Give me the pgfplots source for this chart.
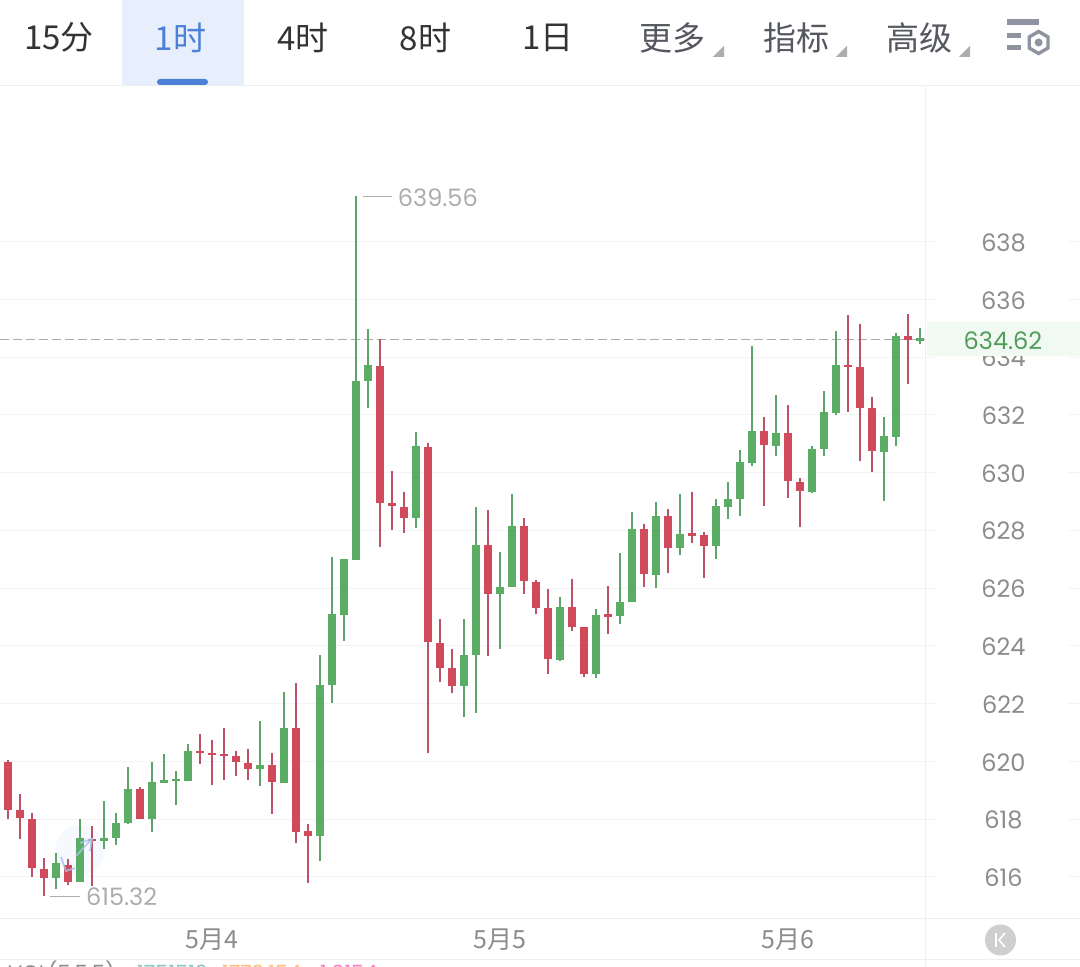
\documentclass[border=0pt]{standalone}
\usepackage{fontspec}
\usepackage{pgfplots}
\pgfplotsset{compat=1.18}
\setmainfont{Poppins}
\newfontfamily\cjk{Noto Sans CJK SC}
\newfontfamily\numf{Poppins}
\definecolor{gbody}{HTML}{5BAD66}
\definecolor{gwick}{HTML}{5CA469}
\definecolor{rbody}{HTML}{CF4A5A}
\definecolor{rwick}{HTML}{BC5268}
\definecolor{gridc}{HTML}{F3F4F5}
\definecolor{framec}{HTML}{EEEFF0}
\definecolor{lab}{HTML}{8C8C8C}
\definecolor{ann}{HTML}{ADADAD}
\definecolor{dashc}{HTML}{ABABAB}
\definecolor{txt}{HTML}{333333}
\definecolor{txtb}{HTML}{555860}
\definecolor{tabbg}{HTML}{E6EFFB}
\definecolor{tabfg}{HTML}{4C80D6}
\definecolor{icon}{HTML}{8E939F}
\definecolor{pricebg}{HTML}{F0F9F2}
\definecolor{btn}{HTML}{CFCFCF}
\definecolor{glow}{HTML}{F6F9FD}
\definecolor{arrowc}{HTML}{A9C4EC}
% position, high, top of body, bottom of body, low
\newcommand\G[5]{\addplot[gwick,line width=1.6pt] coordinates {(#1,#5)(#1,#2)};\addplot[gbody,line width=7.8pt] coordinates {(#1,#4)(#1,#3)};}
\newcommand\R[5]{\addplot[rwick,line width=1.6pt] coordinates {(#1,#5)(#1,#2)};\addplot[rbody,line width=7.8pt] coordinates {(#1,#4)(#1,#3)};}
\begin{document}
\begin{tikzpicture}
\path[use as bounding box,fill=white] (0pt,-48.5pt) rectangle (1080pt,918.5pt);
\fill[glow] (80pt,68.5pt) circle (25pt);
\begin{axis}[at={(0pt,0pt)},anchor=south west,scale only axis,width=925.5pt,height=833pt,
  xmin=-0.6417,xmax=76.48,ymin=614.552,ymax=643.405,clip=false,
  axis line style={draw=none},tick style={draw=none},
  ymajorgrids,grid style={color=gridc,line width=0.8pt},
  ytick={616,618,...,638},yticklabel pos=right,
  xtick={17,41,65},xticklabels={5月4,5月5,5月6},
  /pgf/number format/assume math mode=true,/pgf/number format/fixed,/pgf/number format/1000 sep={},
  yticklabel style={anchor=center,xshift=78pt,yshift=-1pt,text=lab,font=\numf\fontsize{24}{27}\selectfont},
  xticklabel style={anchor=center,yshift=-21.5pt,text=lab,font=\cjk\fontsize{25}{28}\selectfont}]
\addplot[dashc,line width=1.3pt,dash pattern=on 9pt off 4pt] coordinates {(-0.64,634.6)(76.48,634.6)};
\R{0}{620.04}{619.98}{618.31}{617.99}
\R{1}{618.85}{618.31}{618.02}{617.30}
\R{2}{618.20}{618.00}{616.31}{616.00}
\R{3}{616.66}{616.28}{615.94}{615.32}
\G{4}{616.81}{616.46}{615.94}{615.56}
\R{5}{616.61}{616.41}{615.83}{615.70}
\G{6}{617.99}{617.33}{615.81}{615.81}
\R{7}{617.77}{617.32}{617.23}{615.68}
\G{8}{618.62}{617.35}{617.23}{616.95}
\G{9}{618.20}{617.87}{617.35}{617.10}
\G{10}{619.80}{619.05}{617.87}{617.83}
\R{11}{619.12}{619.05}{618.01}{618.01}
\G{12}{619.97}{619.28}{617.99}{617.54}
\G{13}{620.25}{619.35}{619.26}{619.26}
\G{14}{619.67}{619.40}{619.32}{618.47}
\G{15}{620.60}{620.35}{619.33}{619.33}
\R{16}{620.95}{620.37}{620.28}{619.91}
\R{17}{620.74}{620.29}{620.20}{619.19}
\R{18}{621.14}{620.25}{620.17}{619.34}
\R{19}{620.34}{620.17}{619.97}{619.49}
\R{20}{620.41}{619.94}{619.74}{619.34}
\G{21}{621.40}{619.87}{619.74}{619.15}
\R{22}{620.30}{619.87}{619.27}{618.18}
\G{23}{622.39}{621.16}{619.26}{619.26}
\R{24}{622.71}{621.14}{617.56}{617.18}
\R{25}{617.83}{617.57}{617.42}{615.79}
\G{26}{623.68}{622.64}{617.40}{616.53}
\G{27}{627.07}{625.09}{622.63}{622.03}
\G{28}{626.99}{626.99}{625.08}{624.16}
\G{29}{639.56}{633.16}{626.98}{626.98}
\G{30}{634.97}{633.71}{633.16}{632.22}
\R{31}{634.62}{633.69}{628.95}{627.41}
\R{32}{630.06}{628.94}{628.84}{628.01}
\R{33}{629.34}{628.82}{628.43}{627.92}
\G{34}{631.41}{630.92}{628.43}{628.09}
\R{35}{631.01}{630.89}{624.12}{620.27}
\R{36}{624.93}{624.11}{623.24}{622.73}
\R{37}{623.88}{623.22}{622.62}{622.35}
\G{38}{624.93}{623.68}{622.62}{621.52}
\G{39}{628.81}{627.48}{623.68}{621.68}
\R{40}{628.70}{627.48}{625.80}{623.66}
\G{41}{627.24}{626.05}{625.79}{623.90}
\G{42}{629.25}{628.14}{626.03}{626.03}
\R{43}{628.43}{628.14}{626.24}{625.80}
\R{44}{626.28}{626.22}{625.32}{625.09}
\R{45}{625.97}{625.30}{623.53}{623.01}
\G{46}{625.69}{625.34}{623.52}{623.47}
\R{47}{626.31}{625.33}{624.65}{624.51}
\R{48}{624.64}{624.64}{623.02}{622.92}
\G{49}{625.26}{625.05}{623.01}{622.87}
\R{50}{626.08}{625.09}{625.00}{624.40}
\G{51}{627.21}{625.53}{625.04}{624.76}
\G{52}{628.64}{628.05}{625.53}{625.53}
\R{53}{628.22}{628.04}{626.47}{626.02}
\G{54}{628.97}{628.50}{626.46}{626.00}
\R{55}{628.73}{628.48}{627.40}{626.52}
\G{56}{629.25}{627.88}{627.39}{627.15}
\R{57}{629.33}{627.89}{627.81}{627.57}
\R{58}{627.93}{627.83}{627.47}{626.34}
\G{59}{629.09}{628.84}{627.47}{627.01}
\G{60}{629.66}{629.09}{628.82}{628.39}
\G{61}{630.78}{630.35}{629.07}{628.50}
\G{62}{634.37}{631.45}{630.32}{630.24}
\R{63}{631.91}{631.45}{630.96}{628.83}
\G{64}{632.67}{631.36}{630.93}{630.57}
\R{65}{632.35}{631.36}{629.71}{629.12}
\R{66}{629.82}{629.68}{629.37}{628.11}
\G{67}{630.92}{630.82}{629.34}{629.30}
\G{68}{632.81}{632.11}{630.81}{630.57}
\G{69}{634.91}{633.71}{632.06}{631.99}
\R{70}{635.46}{633.73}{633.65}{632.10}
\R{71}{635.14}{633.65}{632.23}{630.41}
\R{72}{632.62}{632.22}{630.74}{630.03}
\G{73}{631.92}{631.26}{630.72}{629.01}
\G{74}{634.82}{634.73}{631.24}{630.92}
\R{75}{635.49}{634.72}{634.60}{633.07}
\G{76}{635.01}{634.65}{634.57}{634.46}
\addplot[ann,line width=0.7pt] coordinates {(29.6,639.56)(32.0,639.56)};
\addplot[ann,line width=0.7pt] coordinates {(3.53,615.32)(6.03,615.32)};
\node[anchor=west,inner sep=0pt,text=ann,font=\numf\fontsize{24}{27}\selectfont] at (axis cs:32.5,639.53) {639.56};
\node[anchor=west,inner sep=0pt,text=ann,font=\numf\fontsize{24}{27}\selectfont] at (axis cs:6.52,615.29) {615.32};
\end{axis}
\begin{scope}[shift={(0pt,918.5pt)},x=1pt,y=-1pt]
  % frame
  \draw[framec,line width=0.9pt] (0,85.5) -- (1080,85.5);
  \draw[framec,line width=0.9pt] (0,918.5) -- (1080,918.5);
  \draw[framec,line width=0.9pt] (0,959) -- (1080,959);
  \draw[framec,line width=0.9pt] (925.8,85.5) -- (925.8,967);
  % stubs of the grid beside the price labels
  \foreach \y in {241.5,299.2,357,414.7,472.5,530.2,588,645.7,703.5,761.2,819,876.7}{
    \draw[gridc,line width=0.8pt] (926,\y) -- (937,\y);
    \draw[gridc,line width=0.8pt] (1068,\y) -- (1080,\y);}
  % current price
  \fill[pricebg] (926.5,322.5) rectangle (1080,356);
  \node[inner sep=0pt,text=gbody!90!black,font=\numf\fontsize{24}{27}\selectfont] at (1003,340.5) {634.62};
  % tabs
  \fill[tabbg] (122,0) rectangle (244,85);
  \fill[tabfg,rounded corners=3pt] (157,85) -- (157,79) -- (208,79) -- (208,85) -- cycle;
  \begin{scope}[every node/.style={inner sep=0pt,font=\cjk\fontsize{33}{36}\selectfont}]
    \node[text=txt] at (59,37.5) {15分};
    \node[text=tabfg] at (180.5,37.5) {1时};
    \node[text=txt] at (303,37.5) {4时};
    \node[text=txt] at (425.5,37.5) {8时};
    \node[text=txt] at (548,37.5) {1日};
    \node[text=txtb] at (672.5,37.5) {更多};
    \node[text=txtb] at (796,37.5) {指标};
    \node[text=txtb] at (919,37.5) {高级};
  \end{scope}
  \foreach \x in {713,836,959}{\fill[ann] (\x,57) -- (\x+11,57) -- (\x+11,46) -- cycle;}
  % settings icon
  \fill[icon] (1007,19) rectangle (1039,25);
  \fill[icon] (1007,33) rectangle (1021,38);
  \fill[icon] (1007,45) rectangle (1021,50);
  \draw[icon,line width=3.4pt] (1038.6,31.5) -- (1048,37) -- (1048,48) -- (1038.6,53.5) -- (1029.2,48) -- (1029.2,37) -- cycle;
  \fill[icon] (1038.6,42.5) circle (4);
  % return button
  \fill[btn] (1000.5,940) circle (15.5);
  \draw[white,line width=1.6pt] (996,933) -- (996,947);
  \draw[white,line width=1.6pt] (1005,933) -- (999,940) -- (1005,947);
  % watermark arrows
  \draw[arrowc,opacity=0.8,line width=1.8pt] (80,843) -- (92,839) -- (90,851);
  \draw[arrowc,opacity=0.8,line width=1.8pt] (92,839) -- (76,856);
  \draw[arrowc,opacity=0.8,line width=1.8pt] (61,857) -- (66,871) -- (75,868);
  % strip of text cut off by the edge
  \begin{scope}
    \clip (0,959.5) rectangle (1080,967);
    \node[anchor=base west,inner sep=0pt,text=lab,font=\numf\fontsize{21}{24}\selectfont] at (8,981) {VOL(5,5,5)};
    \node[anchor=base west,inner sep=0pt,text=teal!45,font=\numf\fontsize{21}{24}\selectfont] at (137,981) {1751513};
    \node[anchor=base west,inner sep=0pt,text=orange!50,font=\numf\fontsize{21}{24}\selectfont] at (222,981) {1772.154};
    \node[anchor=base west,inner sep=0pt,text=magenta!50,font=\numf\fontsize{21}{24}\selectfont] at (320,981) {1.0154};
  \end{scope}
\end{scope}
\end{tikzpicture}
\end{document}
